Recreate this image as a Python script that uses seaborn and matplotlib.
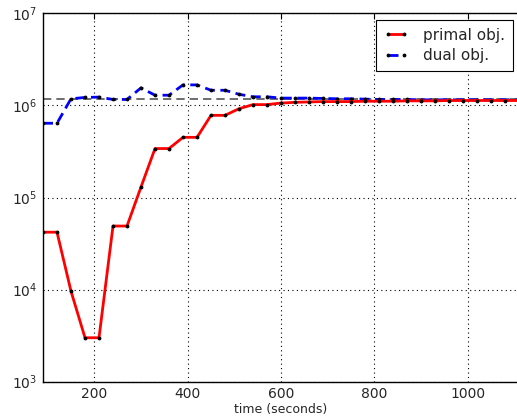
import matplotlib
matplotlib.use("Agg")
import matplotlib.pyplot as plt
import seaborn as sns
import pandas as pd

time = [90, 120, 150, 180, 210, 240, 270, 300, 330, 360, 390, 420, 450, 480,
        510, 540, 570, 600, 630, 660, 690, 720, 750, 780, 810, 840, 870, 900,
        930, 960, 990, 1020, 1050, 1080, 1110]
primal = [4.2e4, 4.2e4, 9.6e3, 3.0e3, 3.0e3, 4.9e4, 4.9e4, 1.3e5, 3.4e5, 3.4e5,
          4.5e5, 4.5e5, 7.8e5, 7.8e5, 9.2e5, 1.02e6, 1.02e6, 1.06e6, 1.08e6, 1.09e6,
          1.10e6, 1.10e6, 1.10e6, 1.11e6, 1.11e6, 1.11e6, 1.12e6, 1.12e6, 1.12e6,
          1.13e6, 1.13e6, 1.13e6, 1.13e6, 1.13e6, 1.13e6]
dual = [6.4e5, 6.4e5, 1.18e6, 1.22e6, 1.23e6, 1.16e6, 1.16e6, 1.55e6, 1.29e6, 1.29e6,
        1.67e6, 1.67e6, 1.46e6, 1.46e6, 1.32e6, 1.24e6, 1.24e6, 1.20e6, 1.20e6, 1.20e6,
        1.19e6, 1.18e6, 1.18e6, 1.17e6, 1.16e6, 1.16e6, 1.16e6, 1.15e6, 1.15e6,
        1.15e6, 1.15e6, 1.15e6, 1.15e6, 1.15e6, 1.15e6]
reference = 1.16e6
labels = ["primal obj.", "dual obj."]

sns.set_style("white")
plt.rcParams['font.family'] = ['DejaVu Sans']

df = pd.DataFrame({"time": time, "primal": primal, "dual": dual})

fig = plt.figure(figsize=(5.17, 4.2), dpi=100)
ax = fig.add_axes([43/517, (420-381.7)/420, (519-43)/517, (381.7-13.3)/420])

ax.axhline(reference, color="#555555", lw=1.2, linestyle=(0, (5, 3)), zorder=1)
sns.lineplot(data=df, x="time", y="primal", ax=ax, color="red", lw=2,
             marker="o", ms=2, mfc="black", mec="black", label=labels[0], zorder=3)
sns.lineplot(data=df, x="time", y="dual", ax=ax, color="blue", lw=2,
             linestyle=(0, (3.6, 2.0)), marker="o", ms=2, mfc="black", mec="black",
             label=labels[1], zorder=2)

ax.set_yscale("log")
ax.set_ylim(1e3, 1e7)
ax.set_xlim(90, 1110)
ax.set_xticks([200, 400, 600, 800, 1000])
ax.set_xlabel("time (seconds)", fontsize=9, labelpad=1)
ax.set_ylabel("")
ax.grid(True, which="major", color="black", linestyle=(0, (1, 3)), lw=0.8)
ax.tick_params(which="both", direction="in", top=True, right=False, labelsize=10,
               color="black")
ax.tick_params(which="major", length=4, width=0.8, pad=4)
ax.tick_params(which="minor", length=2, width=0.6)
for s in ax.spines.values():
    s.set_color("black")
    s.set_linewidth(1)

leg = ax.legend(loc="upper right", numpoints=2, fontsize=11, fancybox=False,
                framealpha=1, edgecolor="black", borderaxespad=0,
                borderpad=0.5, labelspacing=0.35, handlelength=1.6,
                handletextpad=1.0,
                bbox_to_anchor=(513/517, 400/420), bbox_transform=fig.transFigure)
leg.get_frame().set_linewidth(0.8)

fig.savefig("out.png", dpi=100)
